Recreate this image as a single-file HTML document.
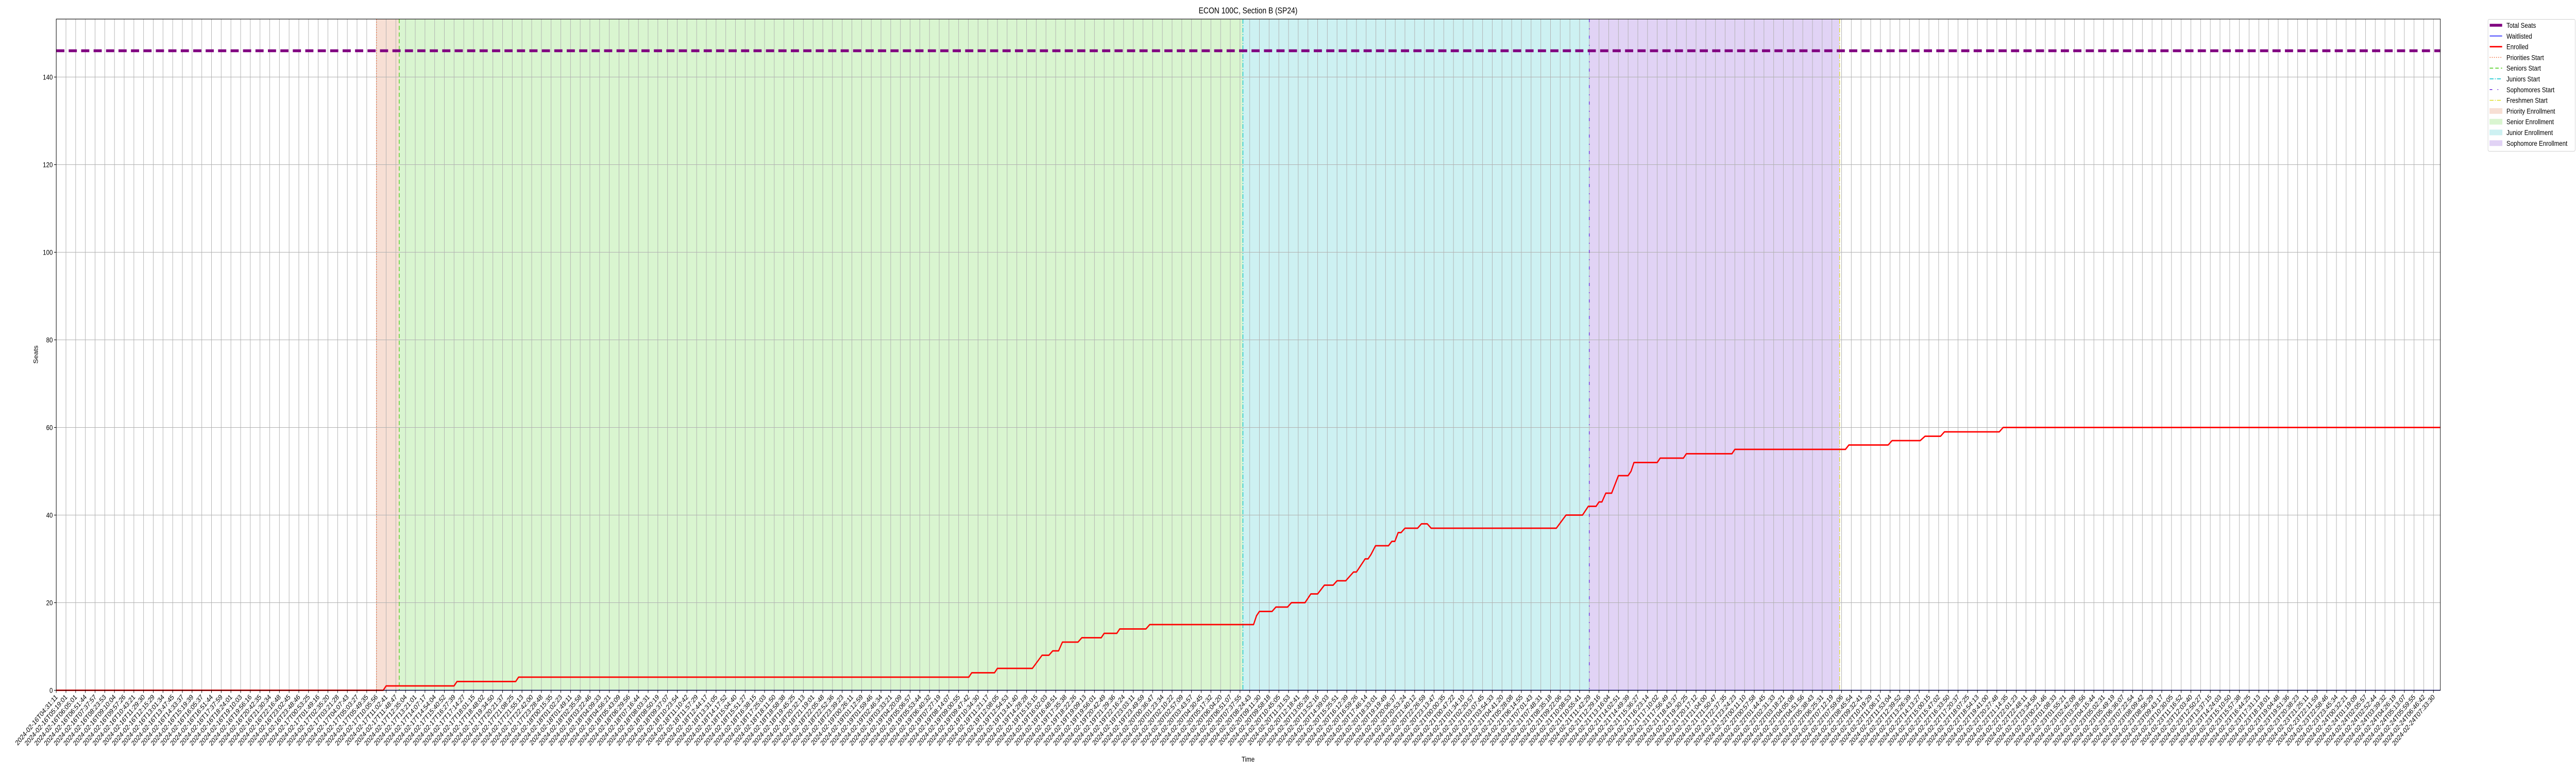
<!DOCTYPE html>
<html><head><meta charset="utf-8"><title>ECON 100C, Section B (SP24)</title>
<style>
html,body{margin:0;padding:0;background:#fff;width:100%;height:100%;overflow:hidden;}
#wrap{position:absolute;left:0;top:0;width:100vw;height:100vh;overflow:hidden;}
svg{display:block;width:100%;height:100%;font-family:"Liberation Sans","DejaVu Sans",sans-serif;overflow:hidden;}
</style></head>
<body>
<div id="wrap">
<svg id="chart" viewBox="0 0 6000 1500" preserveAspectRatio="none" xmlns="http://www.w3.org/2000/svg">
  <rect x="0" y="0" width="6000" height="1500" fill="#fff"/>
  <g id="spans"></g>
  <g id="grid"></g>
  <g id="vlines"></g>
  <g id="series"></g>
  <g id="axes"></g>
  <text x="2907" y="26" font-size="16.7" text-anchor="middle" fill="#000">ECON 100C, Section B (SP24)</text>
  <text x="2907" y="1478" font-size="13.9" text-anchor="middle" fill="#000">Time</text>
  <text x="0" y="0" font-size="13.9" text-anchor="middle" fill="#000" transform="translate(88,688) rotate(-90)">Seats</text>
  <g id="legend"></g>
</svg>
</div>
<script>
// ---- data (x in tick-index units of the time axis) ----
const totalSeats = 146;
const waitlisted = 0;
const enrolledX = [0,33.7,34.0,41.0,41.3,47.35,47.65,94.05,94.35,96.7,97.0,100.6,101.6,102.3,102.7,103.3,103.7,105.3,105.7,107.7,108.0,109.3,109.6,112.3,112.7,123.4,123.7,124.0,125.3,125.7,126.9,127.3,128.7,129.3,130.0,130.7,131.6,132.0,132.9,133.7,134.0,134.9,135.2,135.5,135.97,137.3,137.65,137.96,138.3,138.6,139.0,140.3,140.7,141.3,141.7,154.6,155.6,157.3,157.9,158.7,159.0,159.3,159.7,160.3,161.0,162.0,162.3,162.6,165.0,165.3,167.7,168.0,172.7,173.0,184.4,184.75,188.8,189.2,192.1,192.6,194.2,194.6,200.25,200.65,245.7];
const enrolledV = [0,0,1,1,2,2,3,3,4,4,5,5,8,8,9,9,11,11,12,12,13,13,14,14,15,15,17,18,18,19,19,20,20,22,22,24,24,25,25,27,27,30,30,31,33,33,34,34,36,36,37,37,38,38,37,37,40,40,42,42,43,43,45,45,49,49,50,52,52,53,53,54,54,55,55,56,56,57,57,58,58,59,59,60,60];
const phaseNames = ["Priority Enrollment","Senior Enrollment","Junior Enrollment","Sophomore Enrollment"];
const phaseStart = [33.0,35.35,122.3,158.0];
const phaseEnd = [35.35,122.3,158.0,183.8];
const startNames = ["Priorities Start","Seniors Start","Juniors Start","Sophomores Start","Freshmen Start"];
const startX = [33.0,35.35,122.3,158.0,183.8];
const yTicks = [0,20,40,60,80,100,120,140];
const firstLabels = ["2024-02-16T04:31:11","2024-02-16T05:19:01","2024-02-16T06:05:01","2024-02-16T06:51:44","2024-02-16T07:37:57","2024-02-16T08:23:53","2024-02-16T09:10:04","2024-02-16T09:57:26","2024-02-16T10:43:21","2024-02-16T11:29:30","2024-02-16T12:15:29","2024-02-16T13:01:34","2024-02-16T13:47:45","2024-02-16T14:33:37","2024-02-16T15:19:39","2024-02-16T16:05:37","2024-02-16T16:51:44","2024-02-16T17:37:59","2024-02-16T18:24:01","2024-02-16T19:10:03","2024-02-16T19:56:16","2024-02-16T20:42:35","2024-02-16T21:30:34","2024-02-16T22:16:48","2024-02-16T23:02:45","2024-02-16T23:48:46","2024-02-17T00:53:25","2024-02-17T01:49:16","2024-02-17T02:35:20","2024-02-17T03:21:28","2024-02-17T04:07:43","2024-02-17T05:03:27","2024-02-17T05:49:35","2024-02-17T10:05:56","2024-02-17T11:02:41","2024-02-17T11:48:47","2024-02-17T12:35:04","2024-02-17T13:21:01","2024-02-17T14:07:17"];
const tickLabels = firstLabels.slice();
(function(){
  let t = Date.UTC(2024,1,17,14,7,17);
  for (let i = firstLabels.length; i < 246; i++) {
    t += 2807600;
    tickLabels.push(new Date(t).toISOString().slice(0,19));
  }
})();

// ---- geometry ----
const L = 131, R = 5684, T = 37, B = 1339.5;
const X = i => L + i * 22.6;
const Y = v => B - v * 8.5;
const NS = "http://www.w3.org/2000/svg";
function mk(tag, attrs, parent) {
  const e = document.createElementNS(NS, tag);
  for (const k in attrs) e.setAttribute(k, attrs[k]);
  parent.appendChild(e);
  return e;
}
const spanColors = ["#f7dfd4","#d9f5d0","#cdf1f2","#e1d3f5"];
const startColors = ["#f07040","#44cc11","#00c2cc","#6622dd","#dddd22"];
const startDash = ["2,3","8,5","9,3,2,3","6,12,2,12","9,3,2,3"];

const spans = document.getElementById("spans");
phaseNames.forEach((n, i) => {
  const r = mk("rect", {x: X(phaseStart[i]), y: T, width: X(phaseEnd[i]) - X(phaseStart[i]), height: B - T, fill: spanColors[i]}, spans);
  
  
});

const grid = document.getElementById("grid");
const axes = document.getElementById("axes");
tickLabels.forEach((lab, i) => {
  const x = X(i);
  const g = mk("line", {x1: x, y1: T, x2: x, y2: B, stroke: "#b0b0b0", "stroke-width": 1.1}, grid);
  
  
  const tk = mk("line", {x1: x, y1: B, x2: x, y2: B + 5, stroke: "#000", "stroke-width": 1.1}, axes);
  
  
  const tx = mk("text", {x: x + 4, y: B + 14, "font-size": 13.9, "text-anchor": "end", fill: "#000", transform: `rotate(-45 ${x + 4} ${B + 14})`}, axes);
  tx.textContent = lab;
  
  
});
yTicks.forEach(v => {
  const y = Y(v);
  const g = mk("line", {x1: L, y1: y, x2: R, y2: y, stroke: "#b0b0b0", "stroke-width": 1.1}, grid);
  
  
  const tk = mk("line", {x1: L - 5, y1: y, x2: L, y2: y, stroke: "#000", "stroke-width": 1.1}, axes);
  
  
  const tx = mk("text", {x: L - 8, y: y + 5, "font-size": 13.9, "text-anchor": "end", fill: "#000"}, axes);
  tx.textContent = v;
  
  
});

const vlines = document.getElementById("vlines");
startNames.forEach((n, i) => {
  const l = mk("line", {x1: X(startX[i]), y1: T, x2: X(startX[i]), y2: B, stroke: startColors[i], "stroke-width": 1.5, "stroke-dasharray": startDash[i]}, vlines);
  
  
});

const series = document.getElementById("series");
const ts = mk("line", {x1: L, y1: Y(totalSeats), x2: R, y2: Y(totalSeats), stroke: "#800080", "stroke-width": 5.5, "stroke-dasharray": "19,10"}, series);


const wl = mk("line", {x1: L, y1: Y(waitlisted), x2: R, y2: Y(waitlisted), stroke: "#0000ff", "stroke-width": 1.4}, series);


const pts = enrolledX.map((x, i) => X(x).toFixed(1) + "," + Y(enrolledV[i]).toFixed(1)).join(" ");
const en = mk("polyline", {points: pts, fill: "none", stroke: "#ff0000", "stroke-width": 2.8, "stroke-linejoin": "round"}, series);



const frame = mk("rect", {x: L, y: T, width: R - L, height: B - T, fill: "none", stroke: "#000", "stroke-width": 1.1}, axes);



// ---- legend ----
const lg = document.getElementById("legend");
const box = mk("rect", {x: 5795, y: 37.5, width: 203, height: 256, rx: 3, fill: "#fff", stroke: "#d0d0d0", "stroke-width": 1}, lg);


const legItems = [
  ["Total Seats", "line", "#800080", 5.5, ""],
  ["Waitlisted", "line", "#0000ff", 1.4, ""],
  ["Enrolled", "line", "#ff0000", 2.8, ""],
  ["Priorities Start", "line", startColors[0], 1.5, startDash[0]],
  ["Seniors Start", "line", startColors[1], 1.5, startDash[1]],
  ["Juniors Start", "line", startColors[2], 1.5, startDash[2]],
  ["Sophomores Start", "line", startColors[3], 1.5, startDash[3]],
  ["Freshmen Start", "line", startColors[4], 1.5, startDash[4]],
  ["Priority Enrollment", "patch", spanColors[0]],
  ["Senior Enrollment", "patch", spanColors[1]],
  ["Junior Enrollment", "patch", spanColors[2]],
  ["Sophomore Enrollment", "patch", spanColors[3]]
];
legItems.forEach((it, i) => {
  const y = 49 + i * 20.8;
  const g = mk("g", {}, lg);
  
  
  if (it[1] === "line") {
    const a = {x1: 5799, y1: y, x2: 5828, y2: y, stroke: it[2], "stroke-width": it[3]};
    if (it[4]) a["stroke-dasharray"] = it[4];
    mk("line", a, g);
  } else {
    mk("rect", {x: 5799, y: y - 5, width: 29, height: 10, fill: it[2], stroke: it[2]}, g);
  }
  const t = mk("text", {x: 5838, y: y + 5, "font-size": 13.9, fill: "#000"}, g);
  t.textContent = it[0];
});
</script>
</body></html>
